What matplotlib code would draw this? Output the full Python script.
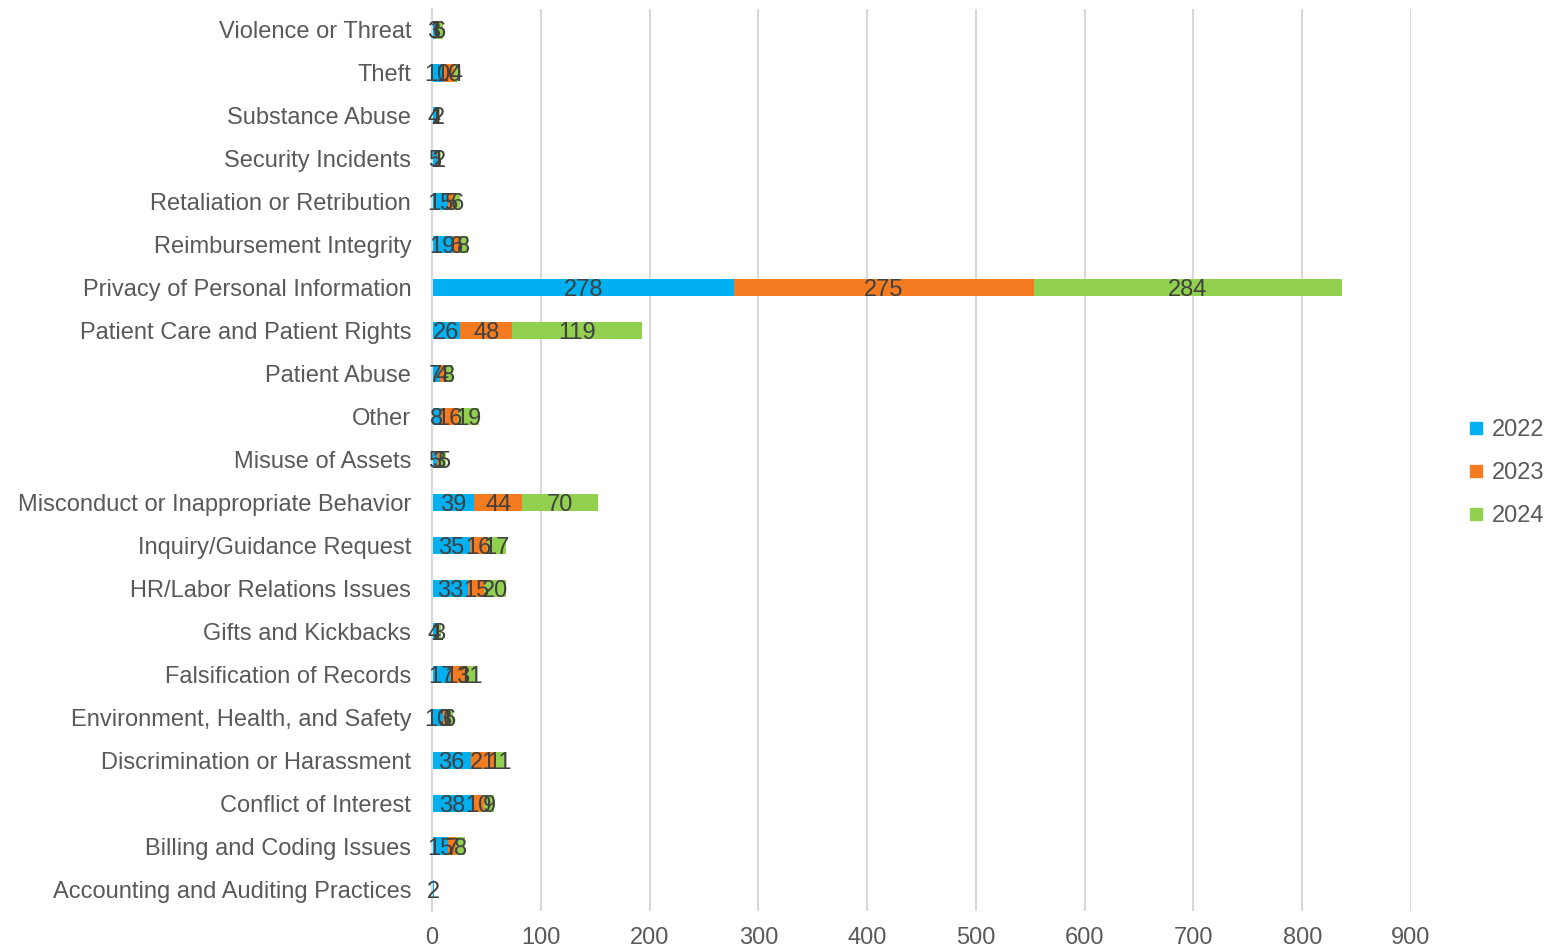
import numpy as np
import matplotlib.pyplot as plt
from matplotlib.lines import Line2D

plt.rcParams['font.family'] = ['Liberation Sans', 'DejaVu Sans']

# categories listed bottom to top
categories = [
    'Accounting and Auditing Practices',
    'Billing and Coding Issues',
    'Conflict of Interest',
    'Discrimination or Harassment',
    'Environment, Health, and Safety',
    'Falsification of Records',
    'Gifts and Kickbacks',
    'HR/Labor Relations Issues',
    'Inquiry/Guidance Request',
    'Misconduct or Inappropriate Behavior',
    'Misuse of Assets',
    'Other',
    'Patient Abuse',
    'Patient Care and Patient Rights',
    'Privacy of Personal Information',
    'Reimbursement Integrity',
    'Retaliation or Retribution',
    'Security Incidents',
    'Substance Abuse',
    'Theft',
    'Violence or Threat',
]

cases_2022 = [2, 15, 38, 36, 10, 17, 4, 33, 35, 39, 5, 8, 7, 26, 278, 19, 15, 5, 4, 10, 3]
cases_2023 = [0, 7, 10, 21, 3, 13, 1, 15, 16, 44, 3, 16, 4, 48, 275, 6, 5, 1, 1, 10, 1]
cases_2024 = [0, 8, 9, 11, 6, 11, 3, 20, 17, 70, 5, 19, 8, 119, 284, 8, 6, 2, 2, 4, 6]

years = ['2022', '2023', '2024']
colors = ['#00B0F0', '#F47B20', '#92D050']
label_color = '#404040'
tick_color = '#595959'

fig = plt.figure(figsize=(15.56, 9.51), dpi=100)
ax = fig.add_axes([432 / 1556, 1 - 910.5 / 951, (1411 - 432) / 1556, 902 / 951])

y = np.arange(len(categories))
left = np.zeros(len(categories))
for vals, color in zip([cases_2022, cases_2023, cases_2024], colors):
    vals = np.array(vals, dtype=float)
    ax.barh(y, vals, left=left, height=0.4, color=color, zorder=2)
    for yi, l, v in zip(y, left, vals):
        if v > 0:
            ax.text(l + v / 2, yi, f'{int(v)}', ha='center', va='center_baseline',
                    fontsize=17, color=label_color, zorder=3)
    left += vals

ax.set_xlim(0, 900)
ax.set_ylim(-0.5, len(categories) - 0.5)
ax.set_xticks(range(0, 901, 100))
ax.set_yticks(y)
ax.set_yticklabels(categories)
ax.tick_params(axis='both', length=0, labelsize=17, labelcolor=tick_color)
ax.tick_params(axis='y', pad=15)
ax.tick_params(axis='x', pad=12)

ax.grid(axis='x', color='#D9D9D9', linewidth=1.5, zorder=0)
for side in ['top', 'right', 'bottom']:
    ax.spines[side].set_visible(False)
ax.spines['left'].set_color('#D9D9D9')
ax.spines['left'].set_linewidth(1.5)

handles = [Line2D([], [], marker='s', linestyle='none', markersize=8,
                  markerfacecolor=c, markeredgecolor=c) for c in colors]
fig.legend(handles, years, loc='center left', bbox_to_anchor=(1452 / 1556, 1 - 473 / 951),
           frameon=False, fontsize=17, handletextpad=-0.3, labelspacing=0.88,
           labelcolor=tick_color, borderaxespad=0, borderpad=0)

fig.savefig('out.png', dpi=100)
